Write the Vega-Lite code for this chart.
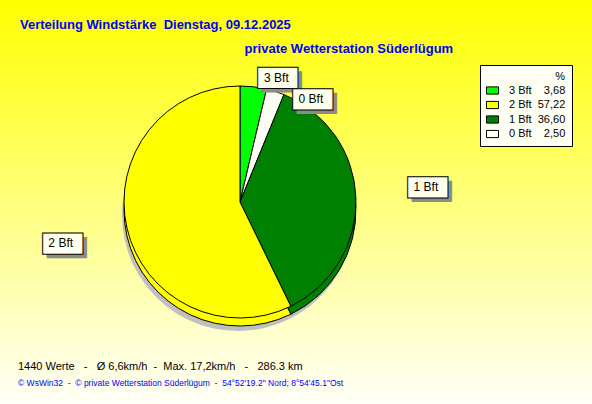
{
  "$schema": "https://vega.github.io/schema/vega-lite/v6.json",
  "padding": 0,
  "background": "#FFFFF8",
  "title": {
    "text": "Verteilung Windstärke\u00a0 Dienstag, 09.12.2025",
    "subtitle": "\u200b\u2003\u2003\u2003\u2003\u2003\u2003\u2003\u2003\u2003\u2003\u2003\u2003\u2003\u2003\u2003\u2003\u2003\u00a0private Wetterstation Süderlügum",
    "anchor": "start",
    "frame": "group",
    "orient": "top",
    "offset": -56,
    "dx": 20,
    "font": "Liberation Sans",
    "fontSize": 13,
    "fontWeight": "bold",
    "color": "#0000FF",
    "subtitleFont": "Liberation Sans",
    "subtitleFontSize": 13,
    "subtitleFontWeight": "bold",
    "subtitleColor": "#0000FF",
    "subtitlePadding": 11
  },
  "vconcat": [
    {
      "width": 480,
      "height": 404,
      "title": {
        "text": "1440 Werte\u00a0\u00a0 -\u00a0\u00a0 Ø 6,6km/h\u00a0 -\u00a0 Max. 17,2km/h\u00a0\u00a0 -\u00a0\u00a0 286.3 km",
        "subtitle": "© WsWin32\u00a0 -\u00a0 © private Wetterstation Süderlügum\u00a0 -\u00a0 54°52'19.2\" Nord; 8°54'45.1\"Ost",
        "orient": "bottom",
        "anchor": "start",
        "frame": "group",
        "offset": -43,
        "dx": 18,
        "font": "Liberation Sans",
        "fontSize": 11,
        "fontWeight": "normal",
        "color": "#000000",
        "subtitleFont": "Liberation Sans",
        "subtitleFontSize": 8.5,
        "subtitleColor": "#0000FF",
        "subtitlePadding": 7
      },
      "data": {
        "values": [
          {"label": "3 Bft", "pct": 3.68, "ord": 1, "entry": "3 Bft\u2007\u20073,68"},
          {"label": "0 Bft", "pct": 2.50, "ord": 2, "entry": "0 Bft\u2007\u20072,50"},
          {"label": "1 Bft", "pct": 36.60, "ord": 3, "entry": "1 Bft\u200736,60"},
          {"label": "2 Bft", "pct": 57.22, "ord": 4, "entry": "2 Bft\u200757,22"}
        ]
      },
      "layer": [
        {
          "data": {"values": [{"bg": 1}]},
          "mark": {
            "type": "rect",
            "fill": {
              "gradient": "linear",
              "x1": 0, "y1": 0, "x2": 0, "y2": 1,
              "stops": [
                {"offset": 0, "color": "#FFFF00"},
                {"offset": 1, "color": "#FFFFF8"}
              ]
            }
          },
          "encoding": {
            "x": {"value": 0},
            "x2": {"value": 592},
            "y": {"value": 0},
            "y2": {"value": "height"}
          }
        },
        {
          "mark": {"type": "arc", "outerRadius": 116, "fill": "#C0C0C0", "yOffset": 13, "xOffset": -2},
          "encoding": {
            "theta": {"field": "pct", "type": "quantitative", "stack": true},
            "order": {"field": "ord", "type": "quantitative"}
          }
        },
        {
          "mark": {"type": "arc", "outerRadius": 116, "yOffset": 8, "stroke": "#000000", "strokeWidth": 1},
          "encoding": {
            "theta": {"field": "pct", "type": "quantitative", "stack": true},
            "order": {"field": "ord", "type": "quantitative"},
            "color": {
              "field": "entry",
              "type": "nominal",
              "scale": {
                "domain": ["3 Bft\u2007\u20073,68", "2 Bft\u200757,22", "1 Bft\u200736,60", "0 Bft\u2007\u20072,50"],
                "range": ["#00FF00", "#FFFF00", "#008000", "#FFFFF8"]
              }
            }
          }
        },
        {
          "mark": {"type": "arc", "outerRadius": 116, "stroke": "#000000", "strokeWidth": 1},
          "encoding": {
            "theta": {"field": "pct", "type": "quantitative", "stack": true},
            "order": {"field": "ord", "type": "quantitative"},
            "color": {
              "field": "entry",
              "type": "nominal",
              "scale": {
                "domain": ["3 Bft\u2007\u20073,68", "2 Bft\u200757,22", "1 Bft\u200736,60", "0 Bft\u2007\u20072,50"],
                "range": ["#00FF00", "#FFFF00", "#008000", "#FFFFF8"]
              },
              "legend": {
                "orient": "none",
                "legendX": 480,
                "legendY": 65,
                "title": "%",
                "titleAnchor": "end",
                "titleFont": "Liberation Sans",
                "titleFontSize": 11,
                "titleFontWeight": "normal",
                "titleColor": "#000000",
                "titlePadding": 2,
                "fillColor": "#FFFFF4",
                "strokeColor": "#000000",
                "padding": 6,
                "symbolType": "M-1,-0.6H1V0.6H-1Z",
                "symbolSize": 144,
                "symbolStrokeColor": "#000000",
                "symbolStrokeWidth": 1,
                "labelFont": "Liberation Sans",
                "labelFontSize": 11,
                "labelColor": "#000000",
                "labelOffset": 10,
                "rowPadding": 1.5
              }
            }
          }
        },
        {
          "mark": {"type": "text", "radius": 125, "text": "█", "angle": 90, "font": "DejaVu Sans Mono", "fontSize": 34, "fill": "#8C8C8C", "xOffset": 26, "yOffset": 4},
          "encoding": {
            "theta": {"field": "pct", "type": "quantitative", "stack": true},
            "order": {"field": "ord", "type": "quantitative"},
            "opacity": {"condition": {"test": "datum.label == '3 Bft'", "value": 1}, "value": 0}
          }
        },
        {
          "mark": {"type": "text", "radius": 125, "text": "█", "angle": 90, "font": "DejaVu Sans Mono", "fontSize": 34, "fill": "#FFFFEE", "stroke": "#000000", "strokeWidth": 1, "xOffset": 22},
          "encoding": {
            "theta": {"field": "pct", "type": "quantitative", "stack": true},
            "order": {"field": "ord", "type": "quantitative"},
            "opacity": {"condition": {"test": "datum.label == '3 Bft'", "value": 1}, "value": 0}
          }
        },
        {
          "mark": {"type": "text", "radius": 125, "font": "Liberation Sans", "fontSize": 12, "color": "#000000", "xOffset": 22},
          "encoding": {
            "theta": {"field": "pct", "type": "quantitative", "stack": true},
            "order": {"field": "ord", "type": "quantitative"},
            "text": {"field": "label"},
            "opacity": {"condition": {"test": "datum.label == '3 Bft'", "value": 1}, "value": 0}
          }
        },
        {
          "mark": {"type": "text", "radius": 108, "text": "█", "angle": 90, "font": "DejaVu Sans Mono", "fontSize": 34, "fill": "#8C8C8C", "xOffset": 42, "yOffset": 4},
          "encoding": {
            "theta": {"field": "pct", "type": "quantitative", "stack": true},
            "order": {"field": "ord", "type": "quantitative"},
            "opacity": {"condition": {"test": "datum.label == '0 Bft'", "value": 1}, "value": 0}
          }
        },
        {
          "mark": {"type": "text", "radius": 108, "text": "█", "angle": 90, "font": "DejaVu Sans Mono", "fontSize": 34, "fill": "#FFFFEE", "stroke": "#000000", "strokeWidth": 1, "xOffset": 38},
          "encoding": {
            "theta": {"field": "pct", "type": "quantitative", "stack": true},
            "order": {"field": "ord", "type": "quantitative"},
            "opacity": {"condition": {"test": "datum.label == '0 Bft'", "value": 1}, "value": 0}
          }
        },
        {
          "mark": {"type": "text", "radius": 108, "font": "Liberation Sans", "fontSize": 12, "color": "#000000", "xOffset": 38},
          "encoding": {
            "theta": {"field": "pct", "type": "quantitative", "stack": true},
            "order": {"field": "ord", "type": "quantitative"},
            "text": {"field": "label"},
            "opacity": {"condition": {"test": "datum.label == '0 Bft'", "value": 1}, "value": 0}
          }
        },
        {
          "mark": {"type": "text", "radius": 178, "text": "█", "angle": 90, "font": "DejaVu Sans Mono", "fontSize": 34, "fill": "#8C8C8C", "xOffset": 12, "yOffset": -5},
          "encoding": {
            "theta": {"field": "pct", "type": "quantitative", "stack": true},
            "order": {"field": "ord", "type": "quantitative"},
            "opacity": {"condition": {"test": "datum.label == '1 Bft'", "value": 1}, "value": 0}
          }
        },
        {
          "mark": {"type": "text", "radius": 178, "text": "█", "angle": 90, "font": "DejaVu Sans Mono", "fontSize": 34, "fill": "#FFFFEE", "stroke": "#000000", "strokeWidth": 1, "xOffset": 8, "yOffset": -9},
          "encoding": {
            "theta": {"field": "pct", "type": "quantitative", "stack": true},
            "order": {"field": "ord", "type": "quantitative"},
            "opacity": {"condition": {"test": "datum.label == '1 Bft'", "value": 1}, "value": 0}
          }
        },
        {
          "mark": {"type": "text", "radius": 178, "font": "Liberation Sans", "fontSize": 12, "color": "#000000", "xOffset": 8, "yOffset": -9},
          "encoding": {
            "theta": {"field": "pct", "type": "quantitative", "stack": true},
            "order": {"field": "ord", "type": "quantitative"},
            "text": {"field": "label"},
            "opacity": {"condition": {"test": "datum.label == '1 Bft'", "value": 1}, "value": 0}
          }
        },
        {
          "mark": {"type": "text", "radius": 184, "text": "█", "angle": 90, "font": "DejaVu Sans Mono", "fontSize": 34, "fill": "#8C8C8C", "xOffset": 4, "yOffset": 4},
          "encoding": {
            "theta": {"field": "pct", "type": "quantitative", "stack": true},
            "order": {"field": "ord", "type": "quantitative"},
            "opacity": {"condition": {"test": "datum.label == '2 Bft'", "value": 1}, "value": 0}
          }
        },
        {
          "mark": {"type": "text", "radius": 184, "text": "█", "angle": 90, "font": "DejaVu Sans Mono", "fontSize": 34, "fill": "#FFFFEE", "stroke": "#000000", "strokeWidth": 1},
          "encoding": {
            "theta": {"field": "pct", "type": "quantitative", "stack": true},
            "order": {"field": "ord", "type": "quantitative"},
            "opacity": {"condition": {"test": "datum.label == '2 Bft'", "value": 1}, "value": 0}
          }
        },
        {
          "mark": {"type": "text", "radius": 184, "font": "Liberation Sans", "fontSize": 12, "color": "#000000"},
          "encoding": {
            "theta": {"field": "pct", "type": "quantitative", "stack": true},
            "order": {"field": "ord", "type": "quantitative"},
            "text": {"field": "label"},
            "opacity": {"condition": {"test": "datum.label == '2 Bft'", "value": 1}, "value": 0}
          }
        }
      ]
    }
  ],
  "config": {
    "view": {"stroke": null},
    "font": "Liberation Sans"
  }
}
